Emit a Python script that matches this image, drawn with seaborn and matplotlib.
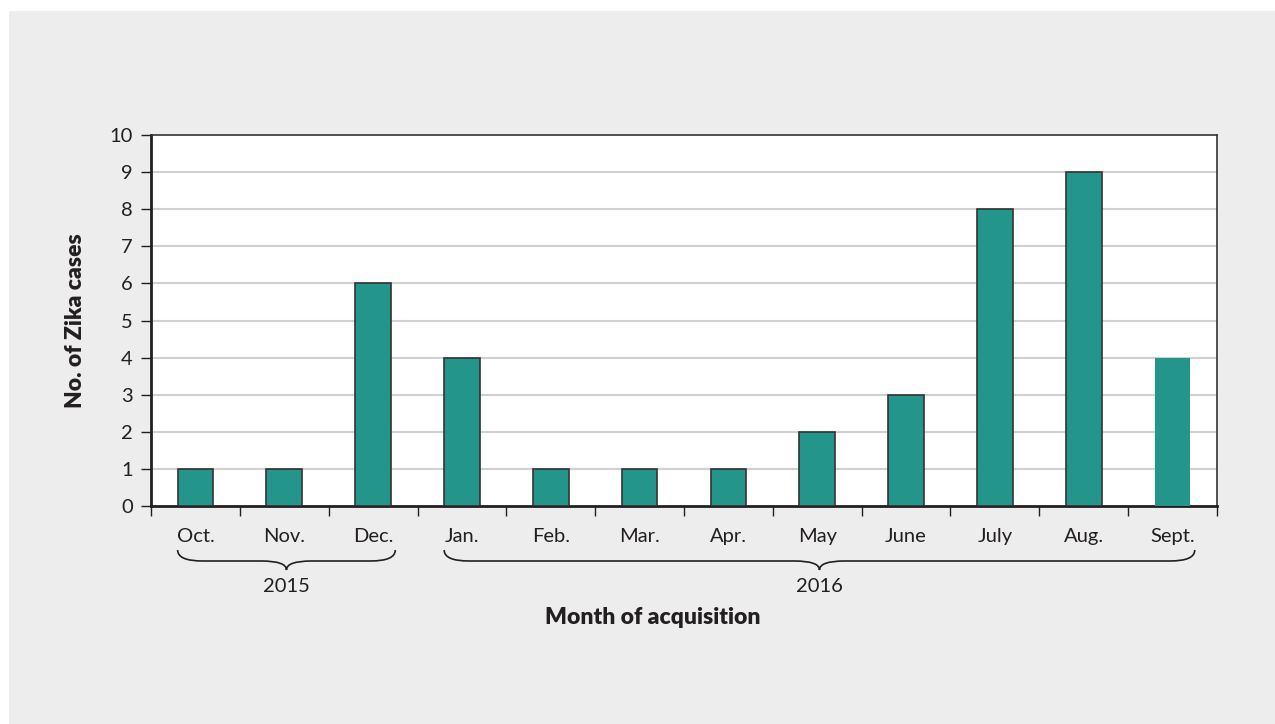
import matplotlib
matplotlib.use("Agg")
import matplotlib.pyplot as plt
import matplotlib.transforms as mtransforms
from matplotlib.path import Path
from matplotlib.patches import PathPatch, Rectangle
from matplotlib.ticker import FixedLocator, NullFormatter
import seaborn as sns
import pandas as pd

# data
months = ["Oct.", "Nov.", "Dec.", "Jan.", "Feb.", "Mar.", "Apr.", "May", "June", "July", "Aug.", "Sept."]
cases = [1, 1, 6, 4, 1, 1, 1, 2, 3, 8, 9, 4]
years = ["2015", "2016"]
year_spans = [(0, 2), (3, 11)]  # first and last month index of each year

TEAL = "#23958b"
BG = "#ededed"
TEXT = "#231f20"

sns.set_theme(style="white")
plt.rcParams["font.family"] = ["Lato", "DejaVu Sans"]

df = pd.DataFrame({"month": months, "cases": cases})

fig = plt.figure(figsize=(12.75, 7.24), dpi=100)
fig.patch.set_facecolor("white")
# grey panel with thin white margin top/left
fig.patches.append(Rectangle((9 / 1275, 0), 1, 1 - 11 / 724, transform=fig.transFigure,
                             facecolor=BG, edgecolor="none", zorder=-10))

ax = fig.add_axes([151 / 1275, 1 - 506 / 724, (1217 - 151) / 1275, (506 - 135) / 724])
ax.set_facecolor("white")

sns.barplot(data=df, x="month", y="cases", color=TEAL, width=0.4, saturation=1,
            edgecolor="#333333", linewidth=1.2, ax=ax, zorder=3)
# last bar drawn without outline, as in the original
ax.patches[-1].set_edgecolor("none")

ax.set_xlim(-0.5, 11.5)
ax.set_ylim(0, 10)
ax.set_yticks(range(0, 11))
for y in range(1, 10):
    ax.axhline(y, color="#d0d0d0", lw=1.5, zorder=1)

ax.tick_params(axis="y", length=7, width=1, color=TEXT, labelsize=14.5, labelcolor=TEXT, pad=6, left=True)

# boundary ticks (major) and centered labels (minor)
ax.xaxis.set_major_locator(FixedLocator([i - 0.5 for i in range(13)]))
ax.xaxis.set_major_formatter(NullFormatter())
ax.xaxis.set_minor_locator(FixedLocator(range(12)))
ax.set_xticklabels(months, minor=True)
ax.tick_params(axis="x", which="major", length=7, width=1, color=TEXT, bottom=True, direction="out")
ax.tick_params(axis="x", which="minor", length=0, labelsize=14.5, labelcolor=TEXT, pad=16)

for side in ["left", "bottom"]:
    ax.spines[side].set_linewidth(2)
    ax.spines[side].set_color(TEXT)
for side in ["top", "right"]:
    ax.spines[side].set_linewidth(1.2)
    ax.spines[side].set_color("#333333")

ax.set_xlabel("")
ax.set_ylabel("")

# year braces below the month labels
trans = mtransforms.blended_transform_factory(ax.transData, ax.transAxes)
h = 506 - 135
y_top = -(550 - 506) / h
y_mid = -(561 - 506) / h
y_bot = -(570 - 506) / h
for label, (a, b) in zip(years, year_spans):
    x0, x1 = a - 0.2, b + 0.25
    xc = (x0 + x1) / 2
    r = 0.28
    verts = [
        (x0, y_top), (x0, y_mid), (x0 + r, y_mid),
        (xc - r, y_mid),
        (xc, y_mid), (xc, y_bot),
        (xc, y_mid), (xc + r, y_mid),
        (x1 - r, y_mid),
        (x1, y_mid), (x1, y_top),
    ]
    codes = [Path.MOVETO, Path.CURVE3, Path.CURVE3, Path.LINETO,
             Path.CURVE3, Path.CURVE3, Path.CURVE3, Path.CURVE3,
             Path.LINETO, Path.CURVE3, Path.CURVE3]
    ax.add_patch(PathPatch(Path(verts, codes), transform=trans, fill=False,
                           edgecolor=TEXT, lw=1.2, clip_on=False))
    ax.text(xc, -(586 - 506) / h, label, transform=trans, ha="center", va="center",
            fontsize=14.5, color=TEXT)

fig.text(653 / 1275, 1 - 617 / 724, "Month of acquisition", ha="center", va="center",
         fontsize=16.5, fontweight="heavy", color=TEXT)
fig.text(75 / 1275, 1 - 321 / 724, "No. of Zika cases", ha="center", va="center",
         rotation=90, fontsize=16.5, fontweight="heavy", color=TEXT)

fig.savefig("out.png", dpi=100)
